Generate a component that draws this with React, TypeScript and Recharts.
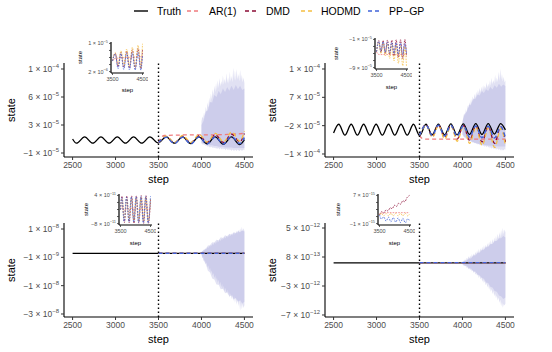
import React from 'react';
import { ComposedChart, Line, Area, XAxis, YAxis, ReferenceLine } from 'recharts';

const FONT = '"Liberation Sans", Arimo, Arial, Helvetica, sans-serif';
const C_TRUTH = '#000000';
const C_AR1 = '#EF7B7E';
const C_DMD = '#8B0B35';
const C_HODMD = '#F5BE42';
const C_PPGP = '#4063D9';
const C_BAND = '#9A9AD8';
const TICK_GREY = '#4D4D4D';

type Pair = [number, number];

// ---------- shared x values ----------
const X_TICKS = [2500, 3000, 3500, 4000, 4500];
const INSET_X_TICKS = [3500, 4500];
const SPLIT_STEP = 3500;
const BAND_STEPS = [4000, 4010, 4020, 4030, 4040, 4050, 4060, 4070, 4080, 4090, 4100, 4110, 4120, 4130, 4140, 4150, 4160, 4170, 4180, 4190, 4200, 4210, 4220, 4230, 4240, 4250, 4260, 4270, 4280, 4290, 4300, 4310, 4320, 4330, 4340, 4350, 4360, 4370, 4380, 4390, 4400, 4410, 4420, 4430, 4440, 4450, 4460, 4470, 4480, 4490, 4500];
const CORE_STEPS = [4000, 4025, 4050, 4075, 4100, 4125, 4150, 4175, 4200, 4225, 4250, 4275, 4300, 4325, 4350, 4375, 4400, 4425, 4450, 4475, 4500];

// ---------- top-left panel (units 1e-5) ----------
const TL_Y_TICKS = [-1, 3, 7, 11];
const TL_Y_MANT = ['−1', '3', '6', '1'];
const TL_Y_EXP = ['−5', '−5', '−5', '−4'];
const TL_TRUTH: Pair[] = [[2500, 1.0], [2545, 0.4], [2640, 1.3], [2735, 0.4], [2830, 1.3], [2925, 0.4], [3020, 1.3], [3115, 0.4], [3210, 1.3], [3305, 0.4], [3400, 1.3], [3495, 0.45], [3590, 1.3], [3685, 0.4], [3780, 1.3], [3875, 0.35], [3970, 1.3], [4065, 0.3], [4160, 1.3], [4255, 0.25], [4350, 1.3], [4445, 0.2], [4500, 0.9]];
const TL_AR1: Pair[] = [[3500, 0.5], [3530, 1.2], [3570, 1.5], [3700, 1.55], [3900, 1.6], [4100, 1.6], [4300, 1.65], [4500, 1.8]];
const TL_DMD: Pair[] = [[3500, 0.5], [3591, 1.35], [3686, 0.45], [3781, 1.4], [3876, 0.45], [3971, 1.5], [4066, 0.5], [4161, 1.6], [4256, 0.5], [4351, 1.7], [4446, 0.6], [4500, 1.8]];
const TL_HODMD: Pair[] = [[3500, 0.5], [3592, 1.4], [3687, 0.5], [3782, 1.5], [3877, 0.5], [3972, 1.65], [4067, 0.55], [4162, 1.8], [4257, 0.6], [4352, 2.0], [4447, 0.7], [4500, 2.1]];
const TL_PPGP: Pair[] = [[3500, 0.5], [3590, 1.25], [3685, 0.35], [3780, 1.25], [3875, 0.3], [3970, 1.3], [4065, 0.3], [4160, 1.3], [4255, 0.3], [4350, 1.35], [4445, 0.35], [4500, 1.2]];
const TL_OUTER_HI = [3.5, 4.2, 3.9, 4.8, 4.3, 5.6, 4.9, 6.2, 5.5, 6.9, 6.1, 7.5, 6.6, 8.1, 7.2, 8.6, 7.7, 9.0, 8.0, 9.4, 8.3, 9.7, 8.5, 9.3, 8.7, 10.1, 8.8, 9.6, 8.9, 10.4, 9.0, 9.8, 8.9, 10.6, 9.2, 10.0, 9.1, 11.2, 9.4, 10.8, 9.3, 11.0, 9.5, 10.3, 9.2, 10.9, 9.4, 10.2, 9.1, 9.8, 9.0];
const TL_OUTER_LO = [0.4, 0.2, 0.3, 0.1, 0.2, 0.0, 0.1, -0.1, 0.0, -0.2, -0.1, -0.2, -0.1, -0.3, -0.2, -0.3, -0.2, -0.4, -0.3, -0.4, -0.3, -0.5, -0.3, -0.4, -0.5, -0.3, -0.5, -0.4, -0.6, -0.4, -0.5, -0.6, -0.4, -0.6, -0.5, -0.7, -0.5, -0.6, -0.7, -0.5, -0.6, -0.7, -0.5, -0.6, -0.7, -0.6, -0.5, -0.7, -0.6, -0.5, -0.6];
const TL_CORE_HI = [3.0, 3.6, 4.9, 5.1, 6.3, 6.2, 7.3, 7.0, 7.9, 7.4, 8.2, 7.7, 8.4, 7.9, 8.6, 8.0, 8.7, 8.1, 8.6, 8.0, 8.2];
const TL_CORE_LO = [0.5, 0.4, 0.3, 0.2, 0.1, 0.1, 0.0, 0.0, -0.1, -0.1, -0.1, -0.2, -0.2, -0.2, -0.2, -0.3, -0.3, -0.3, -0.3, -0.3, -0.3];

// ---------- top-right panel (units 1e-5) ----------
const TR_Y_TICKS = [-10, -2, 6, 14];
const TR_Y_MANT = ['−1', '−2', '7', '1'];
const TR_Y_EXP = ['−4', '−5', '−5', '−4'];
const TR_TRUTH: Pair[] = [[2500, -4.1], [2560, -1.6], [2632, -4.7], [2705, -1.6], [2777, -4.7], [2850, -1.6], [2922, -4.7], [2995, -1.6], [3067, -4.7], [3140, -1.6], [3212, -4.7], [3285, -1.6], [3357, -4.7], [3430, -1.6], [3502, -4.8], [3575, -1.6], [3647, -4.6], [3720, -1.6], [3792, -4.6], [3865, -1.5], [3937, -4.6], [4010, -1.5], [4082, -4.5], [4155, -1.4], [4227, -4.5], [4300, -1.4], [4372, -4.4], [4445, -1.4], [4500, -3.2]];
const TR_AR1: Pair[] = [[3500, -4.8], [3530, -5.6], [3580, -5.8], [4000, -5.8], [4500, -5.8]];
const TR_DMD: Pair[] = [[3500, -4.8], [3576, -1.7], [3648, -5.1], [3721, -1.8], [3793, -5.4], [3866, -1.9], [3938, -5.8], [4011, -2.0], [4083, -6.2], [4156, -2.1], [4228, -6.6], [4301, -2.2], [4373, -7.0], [4446, -2.3], [4500, -6.6]];
const TR_HODMD: Pair[] = [[3500, -4.8], [3577, -1.9], [3649, -5.3], [3722, -2.0], [3794, -5.8], [3867, -2.1], [3939, -6.4], [4012, -2.2], [4084, -7.0], [4157, -2.4], [4229, -7.6], [4302, -2.6], [4374, -8.2], [4447, -2.8], [4500, -7.6]];
const TR_PPGP: Pair[] = [[3500, -4.8], [3575, -1.8], [3647, -4.8], [3720, -1.9], [3792, -4.9], [3865, -1.9], [3937, -5.0], [4010, -2.0], [4082, -5.2], [4155, -2.1], [4227, -5.4], [4300, -2.2], [4372, -5.5], [4445, -2.3], [4500, -5.4]];
const TR_OUTER_HI = [-1.0, 0.5, 1.5, 0.9, 2.6, 1.8, 3.7, 2.9, 4.6, 3.6, 5.5, 4.4, 6.3, 5.0, 7.0, 5.8, 7.6, 6.4, 8.1, 7.0, 8.6, 7.3, 9.0, 7.7, 9.5, 8.1, 9.3, 8.4, 10.2, 8.7, 9.8, 8.9, 10.8, 9.2, 11.5, 9.6, 10.9, 9.8, 12.3, 10.1, 11.6, 10.3, 13.2, 10.6, 14.0, 11.0, 12.6, 10.5, 11.8, 10.2, 10.8];
const TR_OUTER_LO = [-4.5, -5.0, -5.4, -5.2, -5.8, -5.6, -6.1, -5.9, -6.4, -6.2, -6.6, -6.4, -6.9, -6.6, -7.0, -6.8, -7.2, -6.9, -7.4, -7.1, -7.5, -7.2, -7.7, -7.4, -7.8, -7.5, -8.0, -7.6, -8.1, -7.7, -8.2, -7.9, -8.4, -8.0, -8.5, -8.1, -8.6, -8.2, -8.7, -8.3, -8.8, -8.4, -8.9, -8.5, -9.0, -8.6, -9.1, -8.7, -9.0, -8.6, -8.8];
const TR_CORE_HI = [-1.0, 1.2, 1.9, 3.8, 4.0, 5.6, 5.5, 6.8, 6.5, 7.7, 7.2, 8.3, 7.8, 8.9, 8.2, 9.4, 8.7, 9.8, 9.0, 9.6, 9.2];
const TR_CORE_LO = [-4.5, -5.2, -5.7, -6.1, -6.4, -6.7, -6.9, -7.1, -7.2, -7.3, -7.4, -7.5, -7.6, -7.7, -7.7, -7.8, -7.8, -7.9, -7.9, -7.9, -7.9];

// ---------- bottom-left panel (units 1e-9) ----------
const BL_Y_TICKS = [-30, -16, -2, 12];
const BL_Y_MANT = ['−3', '−1', '−1', '1'];
const BL_Y_EXP = ['−8', '−8', '−9', '−8'];
const BL_TRUTH: Pair[] = [[2500, 0], [4500, 0]];
const BL_AR1: Pair[] = [[3500, 0], [4500, 0]];
const BL_DMD: Pair[] = [[3500, 0], [4500, 0]];
const BL_HODMD: Pair[] = [[3500, 0], [4500, 0]];
const BL_PPGP: Pair[] = [[3500, 0], [4500, 0]];
const BL_OUTER_HI = [0.5, 1.2, 0.9, 1.8, 1.4, 2.5, 2.0, 3.1, 2.6, 3.7, 3.1, 4.3, 3.6, 4.9, 4.1, 5.4, 4.6, 5.9, 5.1, 6.4, 5.5, 6.9, 6.0, 7.3, 6.4, 7.8, 6.9, 8.2, 7.3, 8.7, 7.7, 9.1, 8.0, 9.5, 8.4, 9.9, 8.8, 10.3, 9.1, 10.7, 9.5, 11.1, 9.8, 11.6, 10.2, 12.3, 10.6, 13.0, 10.9, 12.4, 11.0];
const BL_OUTER_LO = [-0.5, -2.5, -1.8, -4.0, -3.2, -5.6, -4.6, -7.0, -6.0, -8.4, -7.2, -9.8, -8.5, -11.0, -9.7, -12.3, -10.9, -13.4, -12.0, -14.6, -13.1, -15.7, -14.1, -16.8, -15.2, -17.9, -16.1, -18.9, -17.0, -19.9, -18.0, -20.9, -18.8, -21.8, -19.7, -22.7, -20.5, -23.6, -21.3, -24.4, -22.0, -25.3, -22.8, -26.1, -23.5, -28.4, -24.3, -27.6, -25.0, -27.0, -25.5];
const BL_CORE_HI = [0.3, 1.8, 2.3, 3.9, 4.0, 5.4, 5.3, 6.7, 6.5, 7.9, 7.5, 8.9, 8.4, 9.7, 9.2, 10.4, 9.9, 11.0, 10.4, 11.3, 10.8];
const BL_CORE_LO = [-0.3, -3.6, -5.3, -8.6, -9.5, -12.4, -12.9, -15.4, -15.5, -17.8, -17.5, -19.7, -19.2, -21.3, -20.8, -22.7, -22.1, -23.9, -23.2, -24.8, -24.0];

// ---------- bottom-right panel (units 1e-13) ----------
const BR_Y_TICKS = [-70, -30, 10, 50];
const BR_Y_MANT = ['−7', '−3', '8', '5'];
const BR_Y_EXP = ['−12', '−12', '−13', '−12'];
const BR_TRUTH: Pair[] = [[2500, 2], [4500, 2]];
const BR_AR1: Pair[] = [[3500, 2], [4500, 2]];
const BR_DMD: Pair[] = [[3500, 2], [4500, 2]];
const BR_HODMD: Pair[] = [[3500, 2], [4500, 2]];
const BR_PPGP: Pair[] = [[3500, 2], [4500, 2]];
const BR_OUTER_HI = [3, 5, 4, 7, 5, 9, 7, 11, 8, 12, 9, 14, 10, 15, 12, 17, 13, 19, 15, 21, 16, 22, 18, 24, 19, 26, 21, 27, 22, 29, 24, 31, 26, 33, 27, 35, 29, 37, 31, 39, 33, 42, 35, 44, 37, 47, 39, 50, 41, 48, 44];
const BR_OUTER_LO = [0, -2, -1, -3, -2, -5, -4, -7, -5, -8, -7, -10, -8, -12, -10, -14, -12, -16, -14, -19, -16, -21, -18, -24, -21, -26, -23, -29, -26, -32, -28, -35, -31, -38, -34, -41, -37, -44, -40, -47, -43, -50, -46, -53, -49, -58, -52, -60, -55, -57, -54];
const BR_CORE_HI = [2, 5, 5, 8, 8, 12, 12, 16, 16, 20, 20, 24, 24, 28, 28, 32, 32, 36, 36, 39, 37];
const BR_CORE_LO = [1, -2, -2, -6, -6, -10, -10, -14, -15, -19, -20, -25, -26, -31, -32, -37, -38, -43, -44, -48, -46];

// ---------- insets ----------
const TLI_Y_TICKS = [2, 4, 6, 8, 10];
const TLI_Y_MANT = ['2', '', '', '', '1'];
const TLI_Y_EXP = ['−6', '', '', '', '−5'];
const TLI_AR1: Pair[] = [[3500, 5.0], [3540, 5.6], [3650, 5.8], [3800, 5.9], [4000, 6.0], [4200, 6.1], [4400, 6.2], [4500, 6.3]];
const TLI_DMD: Pair[] = [[3500, 5.0], [3591, 7.2], [3686, 3.4], [3781, 7.5], [3876, 3.2], [3971, 7.8], [4066, 3.0], [4161, 8.2], [4256, 2.9], [4351, 8.6], [4446, 2.8], [4500, 8.3]];
const TLI_HODMD: Pair[] = [[3500, 5.0], [3592, 7.4], [3687, 3.9], [3782, 7.9], [3877, 3.7], [3972, 8.4], [4067, 3.5], [4162, 8.9], [4257, 3.3], [4352, 9.5], [4447, 3.1], [4500, 9.9]];
const TLI_PPGP: Pair[] = [[3500, 5.0], [3590, 7.0], [3685, 2.8], [3780, 7.1], [3875, 2.6], [3970, 7.2], [4065, 2.5], [4160, 7.3], [4255, 2.4], [4350, 7.4], [4445, 2.4], [4500, 6.5]];

const TRI_Y_TICKS = [-9, -7, -5, -3, -1];
const TRI_Y_MANT = ['−9', '', '', '', '−1'];
const TRI_Y_EXP = ['−5', '', '', '', '−5'];
const TRI_AR1: Pair[] = [[3500, -4.5], [3540, -5.1], [3600, -5.3], [4500, -5.3]];
const TRI_DMD: Pair[] = [[3500, -4.5], [3576, -1.3], [3648, -4.7], [3721, -1.3], [3793, -5.0], [3866, -1.2], [3938, -5.3], [4011, -1.2], [4083, -5.7], [4156, -1.1], [4228, -6.1], [4301, -1.1], [4373, -6.5], [4446, -1.0], [4500, -5.8]];
const TRI_HODMD: Pair[] = [[3500, -4.5], [3577, -1.8], [3649, -5.0], [3722, -2.0], [3794, -5.7], [3867, -2.2], [3939, -6.4], [4012, -2.4], [4084, -7.1], [4157, -2.6], [4229, -7.8], [4302, -2.9], [4374, -8.5], [4447, -3.1], [4500, -8.8]];
const TRI_PPGP: Pair[] = [[3500, -4.5], [3575, -1.6], [3647, -4.4], [3720, -1.7], [3792, -4.6], [3865, -1.8], [3937, -4.8], [4010, -1.9], [4082, -5.0], [4155, -2.0], [4227, -5.2], [4300, -2.1], [4372, -5.3], [4445, -2.2], [4500, -5.0]];

const BLI_Y_TICKS = [-8, -5, -2, 1, 4];
const BLI_Y_MANT = ['−8', '', '', '', '4'];
const BLI_Y_EXP = ['−11', '', '', '', '−11'];
const BLI_AR1: Pair[] = [[3500, -2.0], [3560, -1.0], [3640, -2.5], [3720, -1.2], [3800, -2.4], [3880, -1.3], [3960, -2.3], [4040, -1.4], [4120, -2.2], [4200, -1.5], [4280, -2.1], [4360, -1.6], [4440, -2.0], [4500, -1.7]];
const BLI_DMD: Pair[] = [[3500, -2.0], [3550, 3.6], [3630, -7.6], [3710, 3.7], [3790, -7.7], [3870, 3.8], [3950, -7.8], [4030, 3.8], [4110, -7.8], [4190, 3.9], [4270, -7.9], [4350, 3.9], [4430, -7.9], [4500, 2.0]];
const BLI_HODMD: Pair[] = [[3500, -2.0], [3545, 2.5], [3625, -6.3], [3705, 2.6], [3785, -6.4], [3865, 2.8], [3945, -6.6], [4025, 2.9], [4105, -6.7], [4185, 3.0], [4265, -6.8], [4345, 3.1], [4425, -6.9], [4500, 2.5]];
const BLI_PPGP: Pair[] = [[3500, -2.0], [3540, 3.0], [3620, -7.0], [3700, 3.2], [3780, -7.2], [3860, 3.3], [3940, -7.3], [4020, 3.4], [4100, -7.5], [4180, 3.5], [4260, -7.6], [4340, 3.6], [4420, -7.7], [4500, 3.6]];

const BRI_Y_TICKS = [-1, 1, 3, 5, 7];
const BRI_Y_MANT = ['−1', '', '', '', '7'];
const BRI_Y_EXP = ['−15', '', '', '', '−15'];
const BRI_AR1: Pair[] = [[3500, 1.5], [3550, 2.0], [3700, 2.1], [4000, 2.1], [4500, 2.1]];
const BRI_DMD: Pair[] = [[3500, 1.5], [3580, 2.4], [3640, 2.0], [3720, 2.9], [3780, 2.6], [3860, 3.5], [3920, 3.2], [4000, 4.2], [4060, 3.8], [4140, 4.8], [4200, 4.5], [4280, 5.5], [4340, 5.2], [4420, 6.4], [4500, 7.0]];
const BRI_HODMD: Pair[] = [[3500, 1.5], [3560, 1.9], [3640, 1.2], [3720, 1.9], [3800, 1.2], [3880, 1.9], [3960, 1.2], [4040, 1.9], [4120, 1.2], [4200, 1.9], [4280, 1.2], [4360, 1.9], [4440, 1.2], [4500, 1.7]];
const BRI_PPGP: Pair[] = [[3500, 1.5], [3560, 0.3], [3640, 0.9], [3720, -0.3], [3800, 0.8], [3880, -0.5], [3960, 0.7], [4040, -0.6], [4120, 0.6], [4200, -0.7], [4280, 0.5], [4360, -0.8], [4440, 0.4], [4500, -0.2]];

// ---------- helpers ----------
const toPts = (a: Pair[]) => a.map(([step, v]) => ({ step, v }));
const toBand = (steps: number[], lo: number[], hi: number[]) =>
  steps.map((step, i) => ({ step, r: [lo[i], hi[i]] }));

function sciTick(ticks: number[], mant: string[], exps: string[], fs: number) {
  return (props: any) => {
    const { x, y, payload } = props;
    const i = ticks.findIndex((t) => Math.abs(t - Number(payload?.value)) < 1e-9);
    if (i < 0 || !mant[i]) return <g />;
    return (
      <text x={x} y={y + fs * 0.35} textAnchor="end" fill={TICK_GREY} fontSize={fs} fontFamily={FONT}>
        {`${mant[i]} × 10`}
        <tspan fontSize={fs * 0.7} dy={-fs * 0.45}>{exps[i]}</tspan>
      </text>
    );
  };
}

function numTick(fs: number) {
  return (props: any) => {
    const { x, y, payload } = props;
    return (
      <text x={x} y={y} dy={fs * 0.75} textAnchor="middle" fill={TICK_GREY} fontSize={fs} fontFamily={FONT}>
        {String(payload?.value)}
      </text>
    );
  };
}

interface MainCfg {
  left: number; top: number;
  yDomain: [number, number]; yTicks: number[]; yMant: string[]; yExp: string[];
  truth: Pair[]; ar1: Pair[]; dmd: Pair[]; hodmd: Pair[]; ppgp: Pair[];
  outerLo: number[]; outerHi: number[]; coreLo: number[]; coreHi: number[];
}

function MainPanel({ c }: { c: MainCfg }) {
  const dash = '4 3';
  return (
    <div style={{ position: 'absolute', left: c.left, top: c.top, width: 270, height: 140 }}>
      <ComposedChart width={270} height={140} margin={{ top: 23, right: 17, bottom: 3, left: 0 }}>
        <XAxis type="number" dataKey="step" domain={[2400, 4600]} ticks={X_TICKS} interval={0} allowDataOverflow
          height={20} tickSize={3} tickMargin={2} tick={numTick(8.5)}
          axisLine={{ stroke: '#000', strokeWidth: 1.1 }} tickLine={{ stroke: '#333', strokeWidth: 1 }} />
        <YAxis type="number" domain={c.yDomain} ticks={c.yTicks} interval={0} allowDataOverflow
          width={64} tickSize={3} tickMargin={2} tick={sciTick(c.yTicks, c.yMant, c.yExp, 8.5)}
          axisLine={{ stroke: '#000', strokeWidth: 1.1 }} tickLine={{ stroke: '#333', strokeWidth: 1 }} />
        <Area data={toBand(BAND_STEPS, c.outerLo, c.outerHi)} dataKey="r" type="linear" stroke="none"
          fill={C_BAND} fillOpacity={0.3} isAnimationActive={false} dot={false} activeDot={false} />
        <Area data={toBand(CORE_STEPS, c.coreLo, c.coreHi)} dataKey="r" type="linear" stroke="none"
          fill={C_BAND} fillOpacity={0.28} isAnimationActive={false} dot={false} activeDot={false} />
        <Line data={toPts(c.truth)} dataKey="v" type="monotone" stroke={C_TRUTH} strokeWidth={1.3} dot={false} activeDot={false} isAnimationActive={false} />
        <Line data={toPts(c.ar1)} dataKey="v" type="monotone" stroke={C_AR1} strokeWidth={1.3} strokeDasharray={dash} dot={false} activeDot={false} isAnimationActive={false} />
        <Line data={toPts(c.dmd)} dataKey="v" type="monotone" stroke={C_DMD} strokeWidth={1.3} strokeDasharray={dash} dot={false} activeDot={false} isAnimationActive={false} />
        <Line data={toPts(c.hodmd)} dataKey="v" type="monotone" stroke={C_HODMD} strokeWidth={1.3} strokeDasharray={dash} dot={false} activeDot={false} isAnimationActive={false} />
        <Line data={toPts(c.ppgp)} dataKey="v" type="monotone" stroke={C_PPGP} strokeWidth={1.5} strokeDasharray={dash} dot={false} activeDot={false} isAnimationActive={false} />
        <ReferenceLine x={SPLIT_STEP} stroke="#000" strokeWidth={1.4} strokeDasharray="1.5 2.5" />
      </ComposedChart>
    </div>
  );
}

interface InsetCfg {
  px: number; py: number;
  yDomain: [number, number]; yTicks: number[]; yMant: string[]; yExp: string[];
  ar1: Pair[]; dmd: Pair[]; hodmd: Pair[]; ppgp: Pair[];
}

function InsetPanel({ c }: { c: InsetCfg }) {
  const dash = '1.6 1.2';
  const w = 30 + 33 + 4;
  const h = 4 + 31 + 12;
  return (
    <div style={{ position: 'absolute', left: c.px - 30, top: c.py - 4, width: w, height: h }}>
      <ComposedChart width={w} height={h} margin={{ top: 4, right: 4, bottom: 0, left: 0 }}>
        <XAxis type="number" dataKey="step" domain={[3450, 4550]} ticks={INSET_X_TICKS} interval={0} allowDataOverflow
          height={12} tickSize={2} tickMargin={2} tick={numTick(5.5)}
          axisLine={{ stroke: '#000', strokeWidth: 1.2 }} tickLine={{ stroke: '#333', strokeWidth: 0.8 }} />
        <YAxis type="number" domain={c.yDomain} ticks={c.yTicks} interval={0} allowDataOverflow
          width={30} tickSize={2} tickMargin={1} tick={sciTick(c.yTicks, c.yMant, c.yExp, 5.5)}
          axisLine={{ stroke: '#000', strokeWidth: 1.2 }} tickLine={{ stroke: '#333', strokeWidth: 0.8 }} />
        <Line data={toPts(c.ar1)} dataKey="v" type="monotone" stroke={C_AR1} strokeWidth={0.8} strokeDasharray={dash} dot={false} activeDot={false} isAnimationActive={false} />
        <Line data={toPts(c.dmd)} dataKey="v" type="monotone" stroke={C_DMD} strokeWidth={0.8} strokeDasharray={dash} dot={false} activeDot={false} isAnimationActive={false} />
        <Line data={toPts(c.hodmd)} dataKey="v" type="monotone" stroke={C_HODMD} strokeWidth={0.8} strokeDasharray={dash} dot={false} activeDot={false} isAnimationActive={false} />
        <Line data={toPts(c.ppgp)} dataKey="v" type="monotone" stroke={C_PPGP} strokeWidth={0.8} strokeDasharray={dash} dot={false} activeDot={false} isAnimationActive={false} />
      </ComposedChart>
    </div>
  );
}

const PANELS: MainCfg[] = [
  { left: 0, top: 40, yDomain: [-1.571, 11.857], yTicks: TL_Y_TICKS, yMant: TL_Y_MANT, yExp: TL_Y_EXP,
    truth: TL_TRUTH, ar1: TL_AR1, dmd: TL_DMD, hodmd: TL_HODMD, ppgp: TL_PPGP,
    outerLo: TL_OUTER_LO, outerHi: TL_OUTER_HI, coreLo: TL_CORE_LO, coreHi: TL_CORE_HI },
  { left: 261, top: 40, yDomain: [-10.85, 15.69], yTicks: TR_Y_TICKS, yMant: TR_Y_MANT, yExp: TR_Y_EXP,
    truth: TR_TRUTH, ar1: TR_AR1, dmd: TR_DMD, hodmd: TR_HODMD, ppgp: TR_PPGP,
    outerLo: TR_OUTER_LO, outerHi: TR_OUTER_HI, coreLo: TR_CORE_LO, coreHi: TR_CORE_HI },
  { left: 0, top: 200, yDomain: [-31.49, 14.97], yTicks: BL_Y_TICKS, yMant: BL_Y_MANT, yExp: BL_Y_EXP,
    truth: BL_TRUTH, ar1: BL_AR1, dmd: BL_DMD, hodmd: BL_HODMD, ppgp: BL_PPGP,
    outerLo: BL_OUTER_LO, outerHi: BL_OUTER_HI, coreLo: BL_CORE_LO, coreHi: BL_CORE_HI },
  { left: 261, top: 200, yDomain: [-72.76, 56.9], yTicks: BR_Y_TICKS, yMant: BR_Y_MANT, yExp: BR_Y_EXP,
    truth: BR_TRUTH, ar1: BR_AR1, dmd: BR_DMD, hodmd: BR_HODMD, ppgp: BR_PPGP,
    outerLo: BR_OUTER_LO, outerHi: BR_OUTER_HI, coreLo: BR_CORE_LO, coreHi: BR_CORE_HI },
];

const INSETS: InsetCfg[] = [
  { px: 111, py: 42, yDomain: [1.6, 10.4], yTicks: TLI_Y_TICKS, yMant: TLI_Y_MANT, yExp: TLI_Y_EXP,
    ar1: TLI_AR1, dmd: TLI_DMD, hodmd: TLI_HODMD, ppgp: TLI_PPGP },
  { px: 375, py: 38, yDomain: [-9.4, -0.6], yTicks: TRI_Y_TICKS, yMant: TRI_Y_MANT, yExp: TRI_Y_EXP,
    ar1: TRI_AR1, dmd: TRI_DMD, hodmd: TRI_HODMD, ppgp: TRI_PPGP },
  { px: 119, py: 194, yDomain: [-8.6, 4.6], yTicks: BLI_Y_TICKS, yMant: BLI_Y_MANT, yExp: BLI_Y_EXP,
    ar1: BLI_AR1, dmd: BLI_DMD, hodmd: BLI_HODMD, ppgp: BLI_PPGP },
  { px: 378, py: 194, yDomain: [-1.4, 7.4], yTicks: BRI_Y_TICKS, yMant: BRI_Y_MANT, yExp: BRI_Y_EXP,
    ar1: BRI_AR1, dmd: BRI_DMD, hodmd: BRI_HODMD, ppgp: BRI_PPGP },
];

const LEGEND_ITEMS = [
  { label: 'Truth', color: C_TRUTH, dashed: false, kx: 134, tx: 157 },
  { label: 'AR(1)', color: C_AR1, dashed: true, kx: 187, tx: 209 },
  { label: 'DMD', color: C_DMD, dashed: true, kx: 245, tx: 266 },
  { label: 'HODMD', color: C_HODMD, dashed: true, kx: 301, tx: 321 },
  { label: 'PP−GP', color: C_PPGP, dashed: true, kx: 368, tx: 389 },
];

const MAIN_TITLES = [
  { sx: 158.5, sy: 182.5, tx: 11, ty: 110 },
  { sx: 419.5, sy: 182.5, tx: 272, ty: 110 },
  { sx: 158.5, sy: 342.5, tx: 11, ty: 270 },
  { sx: 419.5, sy: 342.5, tx: 272, ty: 270 },
];
const INSET_TITLES = [
  { sx: 127.5, sy: 92, tx: 80, ty: 57.5 },
  { sx: 391.5, sy: 89, tx: 336, ty: 53.5 },
  { sx: 135.5, sy: 245, tx: 86, ty: 209.5 },
  { sx: 394.5, sy: 245, tx: 338, ty: 209.5 },
];

export default function App() {
  return (
    <div style={{ position: 'absolute', left: 0, top: 0, width: 552, height: 352, background: '#fff', overflow: 'hidden' }}>
      {PANELS.map((c, i) => <MainPanel key={`m${i}`} c={c} />)}
      {INSETS.map((c, i) => <InsetPanel key={`i${i}`} c={c} />)}
      <svg width={552} height={352} style={{ position: 'absolute', left: 0, top: 0, pointerEvents: 'none' }}>
        {LEGEND_ITEMS.map((it) => (
          <g key={it.label}>
            <line x1={it.kx} y1={11} x2={it.kx + 14} y2={11} stroke={it.color} strokeWidth={1.4}
              strokeDasharray={it.dashed ? '4 3' : undefined} />
            <text x={it.tx} y={14.7} fontSize={10.5} fontFamily={FONT} fill="#000">{it.label}</text>
          </g>
        ))}
        {MAIN_TITLES.map((t, i) => (
          <g key={`mt${i}`}>
            <text x={t.sx} y={t.sy} textAnchor="middle" fontSize={11} fontFamily={FONT} fill="#000">step</text>
            <text x={t.tx} y={t.ty} textAnchor="middle" dominantBaseline="central" fontSize={11} fontFamily={FONT} fill="#000"
              transform={`rotate(-90 ${t.tx} ${t.ty})`}>state</text>
          </g>
        ))}
        {INSET_TITLES.map((t, i) => (
          <g key={`it${i}`}>
            <text x={t.sx} y={t.sy} textAnchor="middle" fontSize={6} fontFamily={FONT} fill="#000">step</text>
            <text x={t.tx} y={t.ty} textAnchor="middle" dominantBaseline="central" fontSize={6} fontFamily={FONT} fill="#000"
              transform={`rotate(-90 ${t.tx} ${t.ty})`}>state</text>
          </g>
        ))}
      </svg>
    </div>
  );
}
